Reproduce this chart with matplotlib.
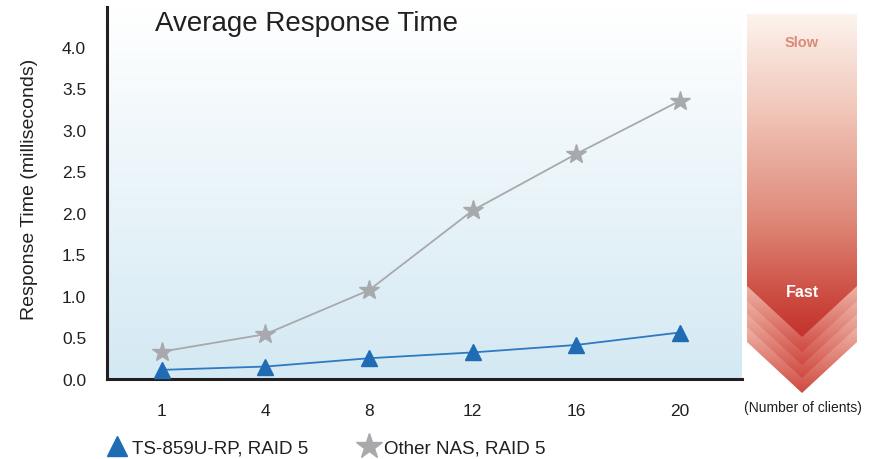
import numpy as np
import matplotlib
matplotlib.use("Agg")
import matplotlib.pyplot as plt
import matplotlib.colors as mcolors
from matplotlib.patches import Polygon
from matplotlib.lines import Line2D

# ------------------------------
# Data
# ------------------------------
clients = ["1", "4", "8", "12", "16", "20"]
ts859_ms = [0.11, 0.15, 0.25, 0.32, 0.41, 0.56]
other_nas_ms = [0.33, 0.54, 1.07, 2.03, 2.71, 3.35]
y_ticks = [0.0, 0.5, 1.0, 1.5, 2.0, 2.5, 3.0, 3.5, 4.0]

series_labels = ["TS-859U-RP, RAID 5", "Other NAS, RAID 5"]

BLUE = "#1f6cb5"
BLUE_LINE = "#2f78c4"
GREY = "#a7a9ac"
INK = "#231f20"

plt.rcParams["font.family"] = ["Liberation Sans", "DejaVu Sans"]

W, H = 883, 460
fig = plt.figure(figsize=(W / 100, H / 100), dpi=100)

# overlay in pixel coords for the decorative speed arrow
deco = fig.add_axes([0, 0, 1, 1])
deco.set_xlim(0, W)
deco.set_ylim(H, 0)
deco.set_axis_off()

# main axes
ax = fig.add_axes([107 / W, 1 - 380 / H, (742 - 107) / W, (380 - 8) / H])

# background gradient (white top -> pale blue bottom)
bg_cmap = mcolors.LinearSegmentedColormap.from_list("bg", ["#d4e9f3", "#ffffff"])
grad = np.linspace(0, 1, 256).reshape(-1, 1)
ax.imshow(grad, cmap=bg_cmap, extent=[0, 1, 0, 1], transform=ax.transAxes,
          aspect="auto", origin="lower", zorder=0)

x = np.arange(len(clients))
ax.plot(x, other_nas_ms, color=GREY, lw=1.3, marker="*", markersize=15,
        markerfacecolor=GREY, markeredgecolor=GREY, zorder=3, clip_on=False)
ax.plot(x, ts859_ms, color=BLUE_LINE, lw=1.3, marker="^", markersize=12,
        markerfacecolor=BLUE, markeredgecolor=BLUE, zorder=4, clip_on=False)

ax.set_xlim(-0.53, 5.6)
ax.set_ylim(0, 4.48)
ax.set_xticks(x)
ax.set_xticklabels(clients)
ax.set_yticks(y_ticks)
ax.set_yticklabels([f"{v:.1f}" for v in y_ticks])
ax.tick_params(length=0, labelsize=12.5, colors=INK)
ax.tick_params(axis="x", pad=17)
ax.tick_params(axis="y", pad=15)
for s in ["top", "right"]:
    ax.spines[s].set_visible(False)
for s in ["left", "bottom"]:
    ax.spines[s].set_linewidth(2.2)
    ax.spines[s].set_color(INK)
ax.set_ylabel("Response Time (milliseconds)", fontsize=14, color=INK)
ax.yaxis.set_label_coords(-0.108, 0.513)

fig.text(155 / W, 1 - 24 / H, "Average Response Time", fontsize=20,
         color=INK, va="center", ha="left")
fig.text(803 / W, 1 - 408 / H, "(Number of clients)", fontsize=10,
         color=INK, va="center", ha="center")

# legend
handles = [
    Line2D([], [], ls="none", marker="^", markersize=15, color=BLUE),
    Line2D([], [], ls="none", marker="*", markersize=19, color=GREY),
]
fig.legend(handles, series_labels, loc="center left",
           bbox_to_anchor=(108 / W, 1 - 449 / H), ncol=2, frameon=False,
           fontsize=13.5, handlelength=1.0, handletextpad=0.3,
           columnspacing=2.7, borderaxespad=0, borderpad=0,
           labelcolor=INK)

# ------------------------------
# Slow / Fast arrow on the right
# ------------------------------
L, R, TOP = 747, 857, 15
MID = (L + R) / 2
DROP = 51

def chevron(side_y):
    return [(L, TOP), (R, TOP), (R, side_y), (MID, side_y + DROP), (L, side_y)]

band_cmap = mcolors.LinearSegmentedColormap.from_list("band", ["#cf4940", "#efb5a8"])
for side_y in [343, 328, 315, 302]:
    poly = Polygon(chevron(side_y), closed=True, facecolor="none", edgecolor="none")
    deco.add_patch(poly)
    im = deco.imshow(grad, cmap=band_cmap, extent=[L, R, side_y + DROP, side_y - 16],
                     aspect="auto", origin="lower", zorder=1)
    im.set_clip_path(poly)

body_cmap = mcolors.LinearSegmentedColormap.from_list(
    "body", [(0.0, "#fdf3ee"), (0.3, "#f1c6b9"), (0.65, "#de8676"),
             (0.88, "#cc4b41"), (1.0, "#c4322e")])
body = Polygon(chevron(287), closed=True, facecolor="none", edgecolor="none")
deco.add_patch(body)
im = deco.imshow(grad[::-1], cmap=body_cmap, extent=[L, R, 287 + DROP, TOP],
                 aspect="auto", origin="lower", zorder=2)
im.set_clip_path(body)

deco.text(MID, 43, "Slow", fontsize=10.5, fontweight="bold", color="#d98a78",
          ha="center", va="center", zorder=5)
deco.text(MID, 293, "Fast", fontsize=11.5, fontweight="bold", color="white",
          ha="center", va="center", zorder=5)
deco.set_xlim(0, W)
deco.set_ylim(H, 0)

fig.savefig("out.png", dpi=100)
